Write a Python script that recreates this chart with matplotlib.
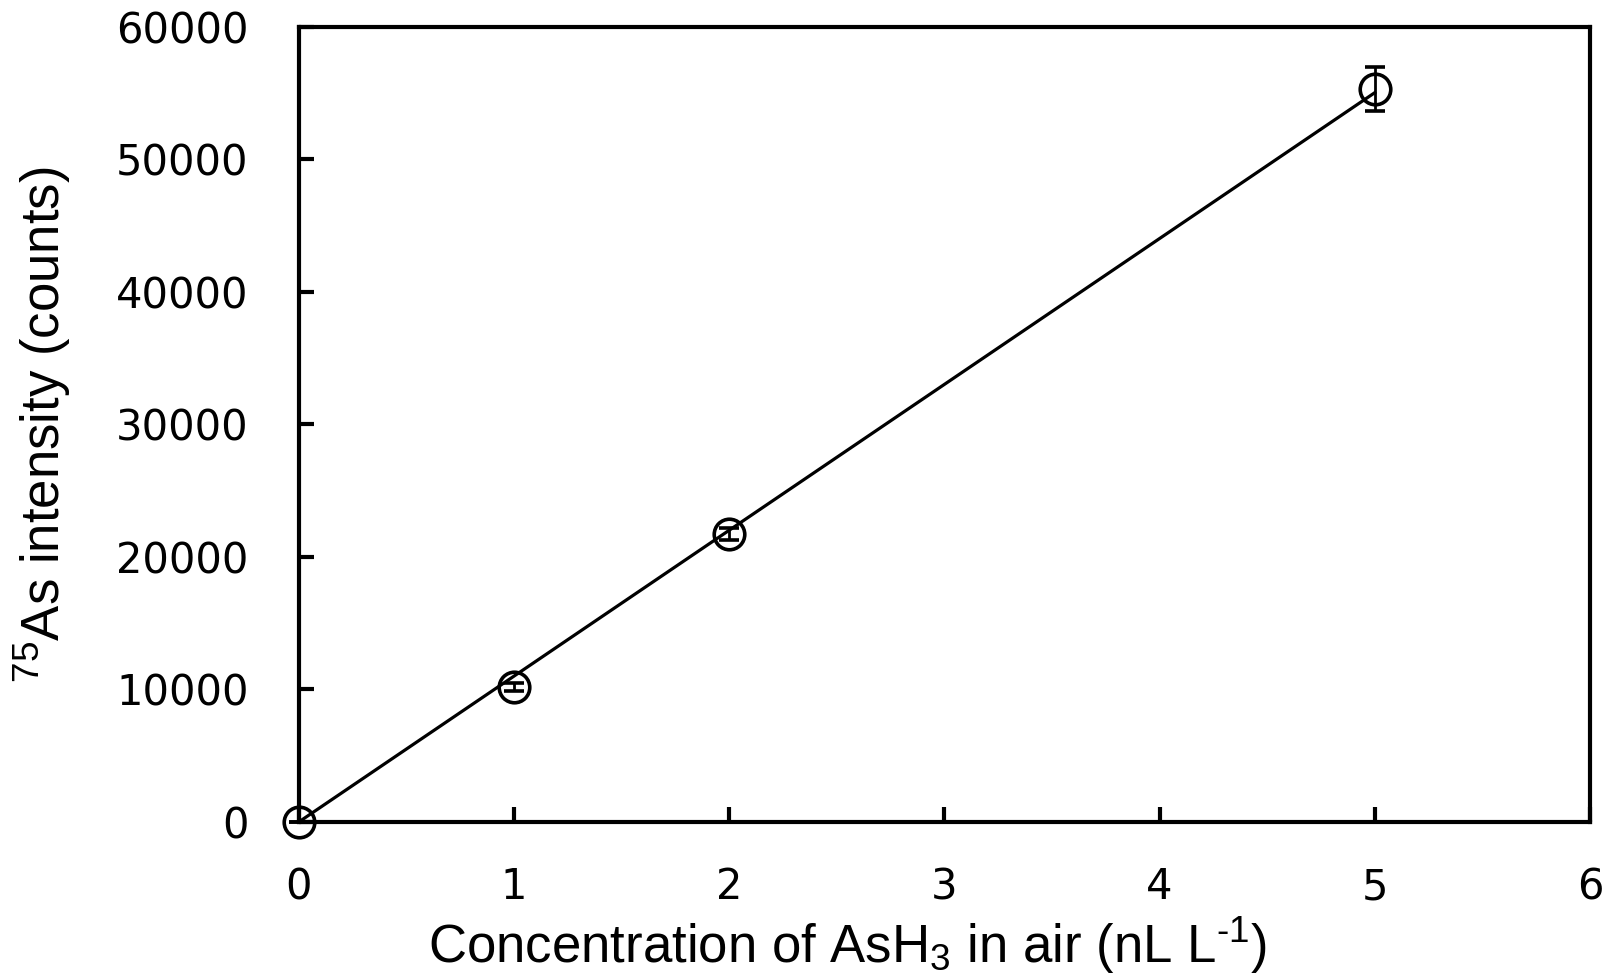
import numpy as np
import matplotlib
matplotlib.use("Agg")
import matplotlib.pyplot as plt

# data
conc = [0, 1, 2, 5]
intensity = [0, 10200, 21700, 55300]
intensity_err = [0, 300, 450, 1650]

x_ticks = [0, 1, 2, 3, 4, 5, 6]
y_ticks = [0, 10000, 20000, 30000, 40000, 50000, 60000]

plt.rcParams["mathtext.fontset"] = "custom"
plt.rcParams["mathtext.rm"] = "Liberation Sans"
plt.rcParams["mathtext.it"] = "Liberation Sans:italic"

fig = plt.figure(figsize=(16.07, 9.75), dpi=100)
ax = fig.add_axes([0.1859, 0.1569, 0.8035, 0.8158])

# linear fit through origin
x = np.array(conc, dtype=float)
y = np.array(intensity, dtype=float)
slope = np.sum(x * y) / np.sum(x * x)
x_fit = np.array([x.min(), x.max()])
ax.plot(x_fit, slope * x_fit, color="black", lw=2.3, zorder=2)

ax.errorbar(
    conc, intensity, yerr=intensity_err,
    fmt="o", ms=22, mfc="none", mec="black", mew=2.6,
    ecolor="black", elinewidth=2, capsize=7, capthick=2,
    clip_on=False, zorder=3,
)

ax.set_xlim(0, 6)
ax.set_ylim(0, 60000)
ax.set_xticks(x_ticks)
ax.set_yticks(y_ticks)

for s in ax.spines.values():
    s.set_linewidth(3)

ax.tick_params(axis="both", direction="in", length=11, width=3,
               labelsize=30)
ax.tick_params(axis="x", pad=32)
ax.tick_params(axis="y", pad=36)
for lab in ax.get_xticklabels() + ax.get_yticklabels():
    lab.set_fontfamily("DejaVu Sans")

ax.set_xlabel(r"Concentration of AsH$_3$ in air (nL L$^{\text{-1}}$)",
              fontsize=38, family="Liberation Sans")
ax.set_ylabel(r"$^{75}$As intensity (counts)",
              fontsize=38, family="Liberation Sans")
ax.xaxis.set_label_coords(0.4246, -0.117)
ax.yaxis.set_label_coords(-0.175, 0.5)

fig.savefig("out.png", dpi=100)
